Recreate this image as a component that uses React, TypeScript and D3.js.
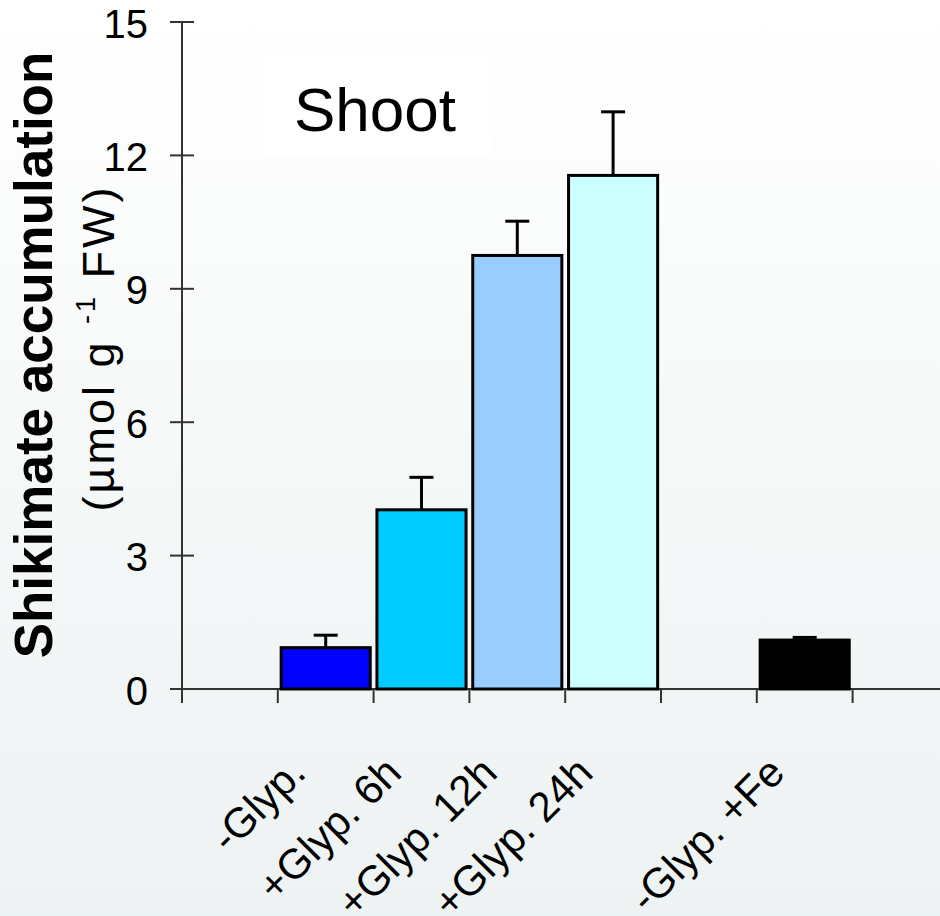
import React from "react";
import * as d3 from "d3";

// categories along the x axis ("" = empty slot)
const categories = ["", "-Glyp.", "+Glyp. 6h", "+Glyp. 12h", "+Glyp. 24h", "", "-Glyp. +Fe", ""];
const barLabels = ["-Glyp.", "+Glyp. 6h", "+Glyp. 12h", "+Glyp. 24h", "-Glyp. +Fe"];
const barValues = [0.93, 4.03, 9.75, 11.55, 1.1];
const barErrors = [0.28, 0.73, 0.77, 1.43, 0.06];
const barColors = ["#0000ff", "#00ccff", "#99ccff", "#ccffff", "#000000"];
const yTicks = [0, 3, 6, 9, 12, 15];

const W = 940;
const H = 916;
const font = "'Liberation Sans', Arial, sans-serif";

export default function App() {
  const x = d3
    .scaleBand<number>()
    .domain(d3.range(categories.length))
    .range([182, 182 + 95.8 * categories.length])
    .paddingInner(0.07)
    .paddingOuter(0.035);

  const y = d3.scaleLinear().domain([0, 15]).range([689, 22]);
  const step = x.step();
  const x0 = 182;
  const bounds = d3.range(categories.length + 1).map((i) => x0 + i * step);

  return (
    <svg width={W} height={H} style={{ position: "absolute", left: 0, top: 0 }} fontFamily={font}>
      <defs>
        <linearGradient id="bg" x1="0" y1="0" x2="0" y2="1">
          <stop offset="0" stopColor="#ffffff" />
          <stop offset="1" stopColor="#edf2f2" />
        </linearGradient>
      </defs>
      <rect width={W} height={H} fill="url(#bg)" />

      {/* label box */}
      <rect x={263} y={60} width={227} height={95} fill="#ffffff" />
      <text x={294} y={131} fontSize={62}>Shoot</text>

      {/* y axis */}
      <line x1={182} x2={182} y1={y(15)} y2={703} stroke="#333" strokeWidth={2} />
      {yTicks.map((t) => (
        <g key={t}>
          <line x1={170} x2={194} y1={y(t)} y2={y(t)} stroke="#333" strokeWidth={2} />
          <text x={148} y={y(t)} dy="0.39em" textAnchor="end" fontSize={40}>{t}</text>
        </g>
      ))}

      {/* x axis */}
      <line x1={170} x2={W} y1={y(0)} y2={y(0)} stroke="#333" strokeWidth={2} />
      {bounds.map((b, i) => (
        <line key={i} x1={b} x2={b} y1={y(0)} y2={703} stroke="#333" strokeWidth={2} />
      ))}

      {/* bars */}
      {barLabels.map((lab, i) => {
        const idx = categories.indexOf(lab);
        const bx = x(idx)!;
        const cx = bx + x.bandwidth() / 2;
        const top = y(barValues[i]);
        const errTop = y(barValues[i] + barErrors[i]);
        return (
          <g key={lab}>
            <line x1={cx} x2={cx} y1={top} y2={errTop} stroke="#000" strokeWidth={3} />
            <line x1={cx - 12} x2={cx + 12} y1={errTop} y2={errTop} stroke="#000" strokeWidth={3} />
            <rect
              x={bx}
              y={top}
              width={x.bandwidth()}
              height={y(0) - top}
              fill={barColors[i]}
              stroke="#000"
              strokeWidth={3}
            />
            <text
              transform={`translate(${cx - 18},${775}) rotate(-45)`}
              textAnchor="end"
              fontSize={42}
            >
              {lab}
            </text>
          </g>
        );
      })}

      {/* axis titles */}
      <text
        transform="translate(52,355) rotate(-90)"
        textAnchor="middle"
        fontSize={53}
        fontWeight="bold"
      >
        Shikimate accumulation
      </text>
      <text
        transform="translate(114,348) rotate(-90)"
        textAnchor="middle"
        fontSize={45}
        letterSpacing={3}
      >
        <tspan>(µmol g </tspan>
        <tspan fontSize={27} dy={-19}> -1</tspan>
        <tspan dy={19}> FW)</tspan>
      </text>
    </svg>
  );
}
